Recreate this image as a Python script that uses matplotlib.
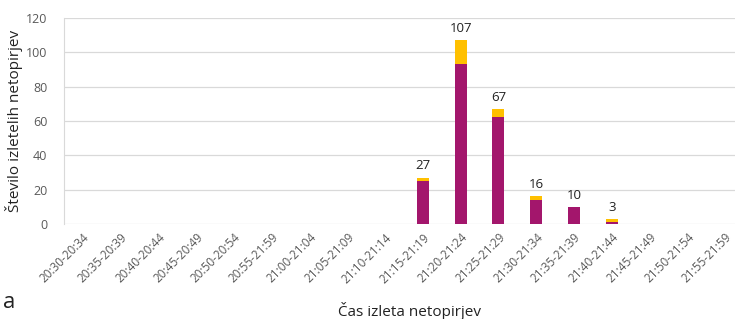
import matplotlib.pyplot as plt
import numpy as np

plt.rcParams['font.family'] = ['Open Sans', 'DejaVu Sans']

categories = ['20:30-20:34', '20:35-20:39', '20:40-20:44', '20:45-20:49', '20:50-20:54',
              '20:55-21:59', '21:00-21:04', '21:05-21:09', '21:10-21:14', '21:15-21:19',
              '21:20-21:24', '21:25-21:29', '21:30-21:34', '21:35-21:39', '21:40-21:44',
              '21:45-21:49', '21:50-21:54', '21:55-21:59']
purple = [0, 0, 0, 0, 0, 0, 0, 0, 0, 25, 93, 62, 14, 10, 1, 0, 0, 0]
yellow = [0, 0, 0, 0, 0, 0, 0, 0, 0, 2, 14, 5, 2, 0, 2, 0, 0, 0]
totals = [None, None, None, None, None, None, None, None, None, 27, 107, 67, 16, 10, 3, None, None, None]

fig = plt.figure(figsize=(7.35, 3.19), dpi=100)
ax = fig.add_axes([64 / 735, 0.298, 680 / 735, 0.646])

x = np.arange(len(categories))
ax.bar(x, purple, width=0.32, color='#A3166C', zorder=3)
ax.bar(x, yellow, width=0.32, bottom=purple, color='#FFC000', zorder=3)

for i, t in enumerate(totals):
    if t is not None:
        ax.text(i, t + 3, str(t), ha='center', va='bottom', fontsize=9.5, color='#222222')

ax.set_xlim(-0.5, len(categories) - 0.5)
ax.set_ylim(0, 120)
ax.set_yticks(range(0, 121, 20))
ax.yaxis.grid(True, color='#D9D9D9', linewidth=0.9, zorder=0)
ax.set_xticks(x)
ax.set_xticklabels(categories, rotation=45, ha='right', rotation_mode='anchor',
                   fontsize=8.5, color='#595959')
ax.tick_params(axis='y', labelsize=9, labelcolor='#595959', length=0, pad=12)
ax.tick_params(axis='x', length=0, pad=5)
for s in ['top', 'right', 'bottom']:
    ax.spines[s].set_visible(False)
ax.spines['left'].set_color('#D9D9D9')

ax.set_ylabel('Število izletelih netopirjev', fontsize=11, color='#222222', labelpad=2)
fig.text(410 / 735, 1 - 311 / 319, 'Čas izleta netopirjev', ha='center', va='center',
         fontsize=11, color='#222222')
fig.text(3 / 735, 1 - 303 / 319, 'a', ha='left', va='center', fontsize=16, color='#222222')

fig.savefig('out.png', dpi=100)
